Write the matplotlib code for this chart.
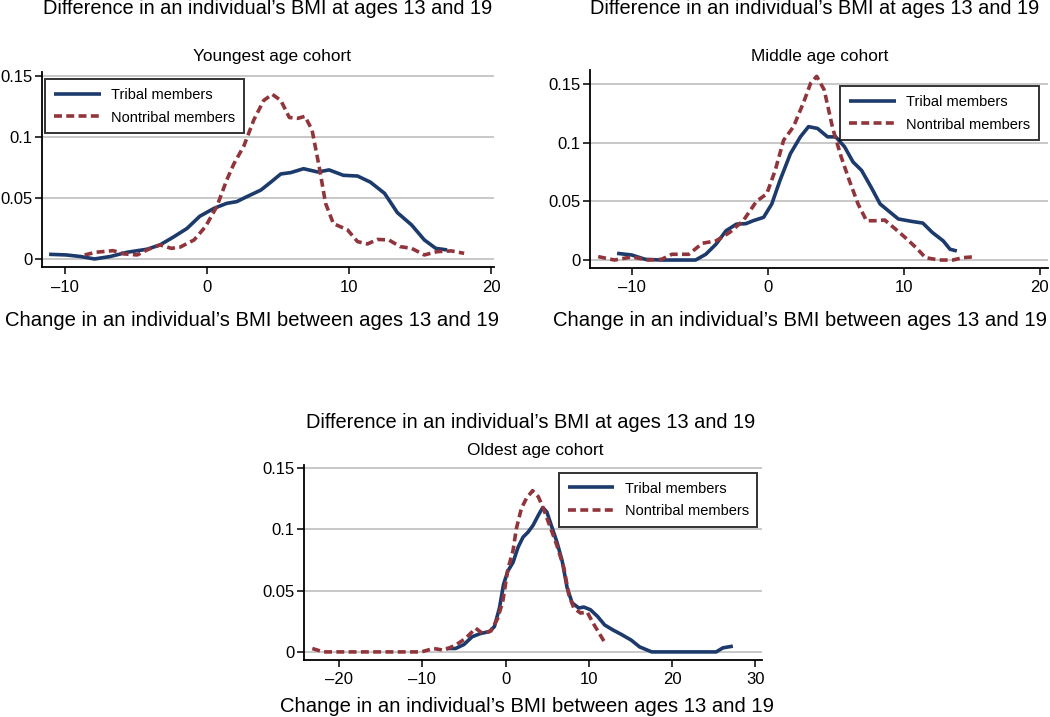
import numpy as np
import matplotlib.pyplot as plt

plt.rcParams['font.family'] = ['Liberation Sans', 'DejaVu Sans']

TITLE = "Difference in an individual\u2019s BMI at ages 13 and 19"
XLABEL = "Change in an individual\u2019s BMI between ages 13 and 19"
SUBTITLES = ["Youngest age cohort", "Middle age cohort", "Oldest age cohort"]
LEGEND_LABELS = ["Tribal members", "Nontribal members"]
NAVY = "#1c3a6b"
MAROON = "#90353b"

# --- youngest cohort ---
young_tribal_x = [-11.1, -9.9, -8.9, -7.9, -6.8, -5.6, -4.2, -3.3, -2.35, -1.4, -0.5, 0.5, 1.4,
                  2.1, 2.8, 3.8, 4.5, 5.2, 5.9, 6.8, 7.8, 8.6, 9.6, 10.6, 11.5, 12.5, 13.4,
                  14.4, 15.3, 16.1, 16.9]
young_tribal_y = [0.0038, 0.0033, 0.002, 0.0, 0.002, 0.0055, 0.008, 0.0115, 0.018, 0.025, 0.035,
                  0.0415, 0.0456, 0.047, 0.051, 0.0565, 0.063, 0.0697, 0.0708, 0.074, 0.0713,
                  0.073, 0.0686, 0.068, 0.063, 0.0538, 0.038, 0.0279, 0.0156, 0.0087, 0.0074]
young_non_x = [-8.6, -7.8, -6.6, -5.8, -4.9, -4.1, -3.3, -2.5, -1.9, -0.9, -0.1, 0.7, 1.4, 1.9,
               2.6, 3.3, 4.0, 4.6, 5.2, 5.8, 6.4, 6.9, 7.4, 7.9, 8.35, 8.9, 9.9, 10.6, 11.3,
               12.0, 12.8, 13.6, 14.4, 15.3, 16.2, 17.2, 18.1]
young_non_y = [0.0033, 0.0055, 0.0068, 0.0041, 0.0033, 0.008, 0.0115, 0.0087, 0.0096, 0.0156,
               0.0265, 0.043, 0.0648, 0.078, 0.0926, 0.114, 0.130, 0.135, 0.130, 0.116, 0.1153,
               0.117, 0.1057, 0.0757, 0.0456, 0.029, 0.0238, 0.0142, 0.0123, 0.016, 0.0156,
               0.0101, 0.0087, 0.0033, 0.006, 0.0066, 0.0046]

# --- middle cohort ---
mid_tribal_x = [-11.07, -10.0, -9.0, -7.8, -5.3, -4.55, -3.8, -3.06, -2.3, -1.6, -1.07, -0.3,
                0.3, 0.9, 1.67, 2.4, 3.0, 3.66, 4.4, 5.0, 5.65, 6.27, 6.9, 7.6, 8.26, 9.0, 9.6,
                10.6, 11.4, 12.1, 12.9, 13.4, 13.9]
mid_tribal_y = [0.0057, 0.0043, 0.0006, 0.0, 0.0, 0.0049, 0.0135, 0.025, 0.0306, 0.031, 0.0335,
                0.0364, 0.0478, 0.0678, 0.0907, 0.105, 0.1137, 0.1122, 0.105, 0.105, 0.0965,
                0.0836, 0.0764, 0.0621, 0.0478, 0.0407, 0.035, 0.0329, 0.0315, 0.0235, 0.0163,
                0.0092, 0.0077]
mid_non_x = [-12.46, -11.27, -10.0, -8.8, -7.8, -7.04, -5.8, -4.8, -3.8, -2.8, -1.8, -0.82,
             -0.07, 0.55, 1.17, 1.9, 2.66, 3.16, 3.6, 4.15, 4.78, 5.4, 6.0, 6.64, 7.26, 7.9,
             8.6, 9.4, 10.1, 10.9, 11.6, 12.6, 13.6, 14.35, 15.3]
mid_non_y = [0.0029, 0.0, 0.0026, 0.0, 0.0006, 0.0049, 0.0049, 0.0143, 0.0163, 0.0235, 0.0335,
             0.0501, 0.0564, 0.0764, 0.1022, 0.1137, 0.1351, 0.1509, 0.1566, 0.1451, 0.1122,
             0.0879, 0.0678, 0.0478, 0.0335, 0.0335, 0.0341, 0.0263, 0.0192, 0.0106, 0.002,
             0.0, 0.0, 0.002, 0.0029]

# --- oldest cohort ---
old_tribal_x = [-7.1, -6.0, -5.0, -4.0, -2.97, -1.95, -1.34, -0.73, -0.24, 0.28, 0.9, 1.5, 2.1,
                2.7, 3.3, 3.94, 4.47, 4.96, 5.57, 6.18, 6.8, 7.4, 8.0, 8.8, 9.4, 10.2, 11.06,
                11.9, 12.9, 13.9, 15.1, 16.1, 17.56, 20.0, 25.3, 26.1, 27.3]
old_tribal_y = [0.0028, 0.0028, 0.006, 0.0124, 0.0151, 0.0165, 0.0206, 0.0358, 0.055, 0.066,
                0.073, 0.0853, 0.0936, 0.0977, 0.1032, 0.1115, 0.1178, 0.1142, 0.1018, 0.0895,
                0.0743, 0.0523, 0.04, 0.0358, 0.0366, 0.0344, 0.0289, 0.022, 0.0179, 0.0143,
                0.0096, 0.0041, 0.0, 0.0, 0.0, 0.0033, 0.0047]
old_non_x = [-23.2, -21.9, -10.1, -8.66, -7.4, -6.0, -4.8, -3.58, -2.76, -1.75, -0.93, -0.33,
             0.28, 0.9, 1.3, 1.9, 2.5, 3.25, 3.94, 4.55, 5.37, 6.18, 7.0, 7.6, 8.2, 9.0, 9.8,
             10.65, 11.5, 12.07]
old_non_y = [0.0028, 0.0, 0.0, 0.0028, 0.0014, 0.0055, 0.011, 0.0193, 0.0151, 0.0171, 0.0275,
             0.0413, 0.0674, 0.0826, 0.1005, 0.117, 0.1252, 0.1316, 0.1266, 0.117, 0.1018,
             0.0867, 0.0688, 0.0468, 0.0358, 0.0317, 0.0325, 0.022, 0.0124, 0.006]

W, H = 1050, 717
fig = plt.figure(figsize=(W / 100, H / 100), dpi=100)


def px_axes(left, top, right, bottom):
    return fig.add_axes([left / W, 1 - bottom / H, (right - left) / W, (bottom - top) / H])


def draw_panel(ax, tx, ty, nx, ny, xlim, ylim, xticks, leg_loc, leg_anchor):
    ax.set_xlim(*xlim)
    ax.set_ylim(*ylim)
    for yv in [0, 0.05, 0.1, 0.15]:
        ax.axhline(yv, color="#c8c8c8", lw=1.4, zorder=0)
    ax.plot(tx, ty, color=NAVY, lw=2.6, solid_capstyle="butt", label=LEGEND_LABELS[0])
    ax.plot(nx, ny, color=MAROON, lw=2.6, ls=(0, (2.2, 1.2)), label=LEGEND_LABELS[1])
    ax.set_xticks(xticks)
    ax.set_xticklabels([("\u2013" + str(-v)) if v < 0 else str(v) for v in xticks])
    ax.set_yticks([0, 0.05, 0.1, 0.15])
    ax.set_yticklabels(["0", "0.05", "0.1", "0.15"])
    ax.tick_params(direction="out", length=5, width=1.1, labelsize=12, pad=2)
    ax.tick_params(axis="x", pad=4)
    for s in ["top", "right"]:
        ax.spines[s].set_visible(False)
    for s in ["left", "bottom"]:
        ax.spines[s].set_linewidth(1.3)
    leg = ax.legend(loc=leg_loc, bbox_to_anchor=leg_anchor, frameon=True, fancybox=False,
                    fontsize=10.5, handlelength=3.2, borderpad=0.6, labelspacing=0.6,
                    handletextpad=0.7, borderaxespad=0)
    leg.get_frame().set_edgecolor("black")
    leg.get_frame().set_linewidth(1.4)


ax1 = px_axes(42, 72, 494, 267)
draw_panel(ax1, young_tribal_x, young_tribal_y, young_non_x, young_non_y,
           (-11.6, 20.2), (-0.0066, 0.1533), [-10, 0, 10, 20], "upper left", (0.007, 0.964))
ax2 = px_axes(590, 70, 1048, 268)
draw_panel(ax2, mid_tribal_x, mid_tribal_y, mid_non_x, mid_non_y,
           (-13.06, 20.6), (-0.0068, 0.162), [-10, 0, 10, 20], "upper right", (0.98, 0.919))
ax3 = px_axes(304, 465, 762, 660)
draw_panel(ax3, old_tribal_x, old_tribal_y, old_non_x, old_non_y,
           (-24.2, 30.8), (-0.0066, 0.1525), [-20, -10, 0, 10, 20, 30], "upper right", (0.99, 0.96))

# titles and axis labels placed like the original figure
fig.text(268 / W, 1 - 9 / H, TITLE, ha="center", va="center", fontsize=14.4)
fig.text(272 / W, 1 - 57 / H, SUBTITLES[0], ha="center", va="center", fontsize=12.4)
fig.text(252 / W, 1 - 320 / H, XLABEL, ha="center", va="center", fontsize=14.6)

fig.text(815 / W, 1 - 9 / H, TITLE, ha="center", va="center", fontsize=14.4)
fig.text(820 / W, 1 - 57 / H, SUBTITLES[1], ha="center", va="center", fontsize=12.4)
fig.text(800 / W, 1 - 320 / H, XLABEL, ha="center", va="center", fontsize=14.6)

fig.text(531 / W, 1 - 422 / H, TITLE, ha="center", va="center", fontsize=14.4)
fig.text(535 / W, 1 - 451 / H, SUBTITLES[2], ha="center", va="center", fontsize=12.4)
fig.text(527 / W, 1 - 706 / H, XLABEL, ha="center", va="center", fontsize=14.6)

fig.savefig("out.png", dpi=100)
